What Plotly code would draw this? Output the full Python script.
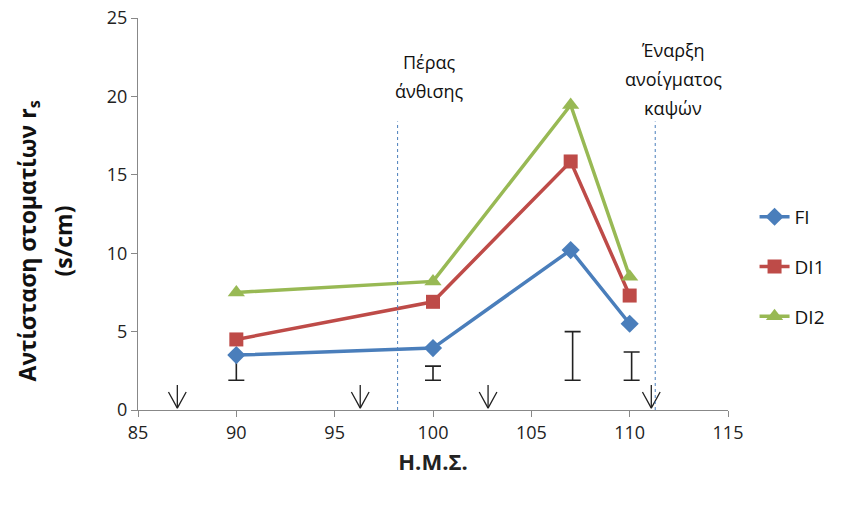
import plotly.graph_objects as go

x_days = [90, 100, 107, 110]
fi = [3.5, 3.95, 10.2, 5.5]
di1 = [4.5, 6.9, 15.85, 7.3]
di2 = [7.5, 8.2, 19.45, 8.5]
err_x = [90, 100, 107.1, 110.1]
err_low = [1.9, 1.9, 1.9, 1.9]
err_high = [3.5, 2.8, 5.0, 3.7]
arrow_x = [87.0, 96.3, 102.8, 111.1]
vline_x = [98.2, 111.3]
vline_labels = [["Πέρας", "άνθισης"], ["Έναρξη", "ανοίγματος", "καψών"]]
label_top = [22.2, 22.95]
ytitle_lines = ["<b>Αντίσταση στοματίων r<sub>s</sub></b>", "<b>(s/cm)</b>"]

FONT = "Open Sans"

fig = go.Figure()

mid = [(a + b) / 2 for a, b in zip(err_low, err_high)]
half = [(b - a) / 2 for a, b in zip(err_low, err_high)]
fig.add_trace(go.Scatter(x=err_x, y=mid, mode="markers", showlegend=False,
                         marker=dict(size=1, color="rgba(0,0,0,0)"),
                         error_y=dict(type="data", array=half, visible=True,
                                      color="#222", thickness=1.6, width=8),
                         hoverinfo="skip"))

# arrows (shaft + open V head) built from arrow_x
ax_, ay_ = [], []
for xv in arrow_x:
    ax_ += [xv, xv, None, xv - 0.45, xv, xv + 0.45, None]
    ay_ += [1.6, 0.12, None, 1.15, 0.12, 1.15, None]
fig.add_trace(go.Scatter(x=ax_, y=ay_, mode="lines", showlegend=False,
                         line=dict(color="#222", width=1.3), hoverinfo="skip"))

series = [("FI", fi, "#4A7EBB", "diamond", 14),
          ("DI1", di1, "#BE4B48", "square", 14),
          ("DI2", di2, "#98B954", "triangle-up", 15)]
for name, ys, col, sym, sz in series:
    fig.add_trace(go.Scatter(x=x_days, y=ys, name=name, mode="lines+markers",
                             line=dict(color=col, width=3.5),
                             marker=dict(symbol=sym, size=sz, color=col),
                             legendgroup=name))

for xv, lines, top, xs in zip(vline_x, vline_labels, label_top, [32, 18]):
    fig.add_shape(type="line", x0=xv, x1=xv, y0=0, y1=18.4, xref="x", yref="y",
                  line=dict(color="#4A7EBB", width=1, dash="dot"))
    for i, ln in enumerate(lines):
        fig.add_annotation(x=xv, y=top, xref="x", yref="y", text=ln, showarrow=False,
                           yanchor="middle", xanchor="center", xshift=xs, yshift=-29 * i,
                           font=dict(family=FONT, size=18, color="#111"))

for txt, xs in zip(ytitle_lines, [-110, -75]):
    fig.add_annotation(x=0, y=0.43, xref="paper", yref="paper", text=txt,
                       showarrow=False, textangle=-90, xshift=xs,
                       xanchor="center", yanchor="middle",
                       font=dict(family=FONT, size=23, color="#111"))

fig.update_layout(
    width=850, height=510, paper_bgcolor="white", plot_bgcolor="white",
    margin=dict(l=138, r=122, t=18, b=100),
    font=dict(family=FONT, size=18, color="#222"),
    legend=dict(x=1.045, y=0.365, xanchor="left", yanchor="middle",
                tracegroupgap=22, font=dict(size=19, color="#111")),
    xaxis=dict(range=[85, 115], tickvals=[85, 90, 95, 100, 105, 110, 115],
               showgrid=False, zeroline=False, showline=True, linecolor="#888",
               ticks="outside", tickcolor="#888", ticklen=6, automargin=False,
               ticklabeloverflow="allow",
               title=dict(text="<b>Η.Μ.Σ.</b>", font=dict(size=22), standoff=12)),
    yaxis=dict(range=[0, 25], tickvals=[0, 5, 10, 15, 20, 25],
               showgrid=False, zeroline=False, showline=True, linecolor="#888",
               ticks="outside", tickcolor="#888", ticklen=6, automargin=False,
               ticklabeloverflow="allow"),
)

fig.write_html("out.html", config={"displayModeBar": False},
               post_script="document.body.style.margin='0';document.body.style.padding='0';")
